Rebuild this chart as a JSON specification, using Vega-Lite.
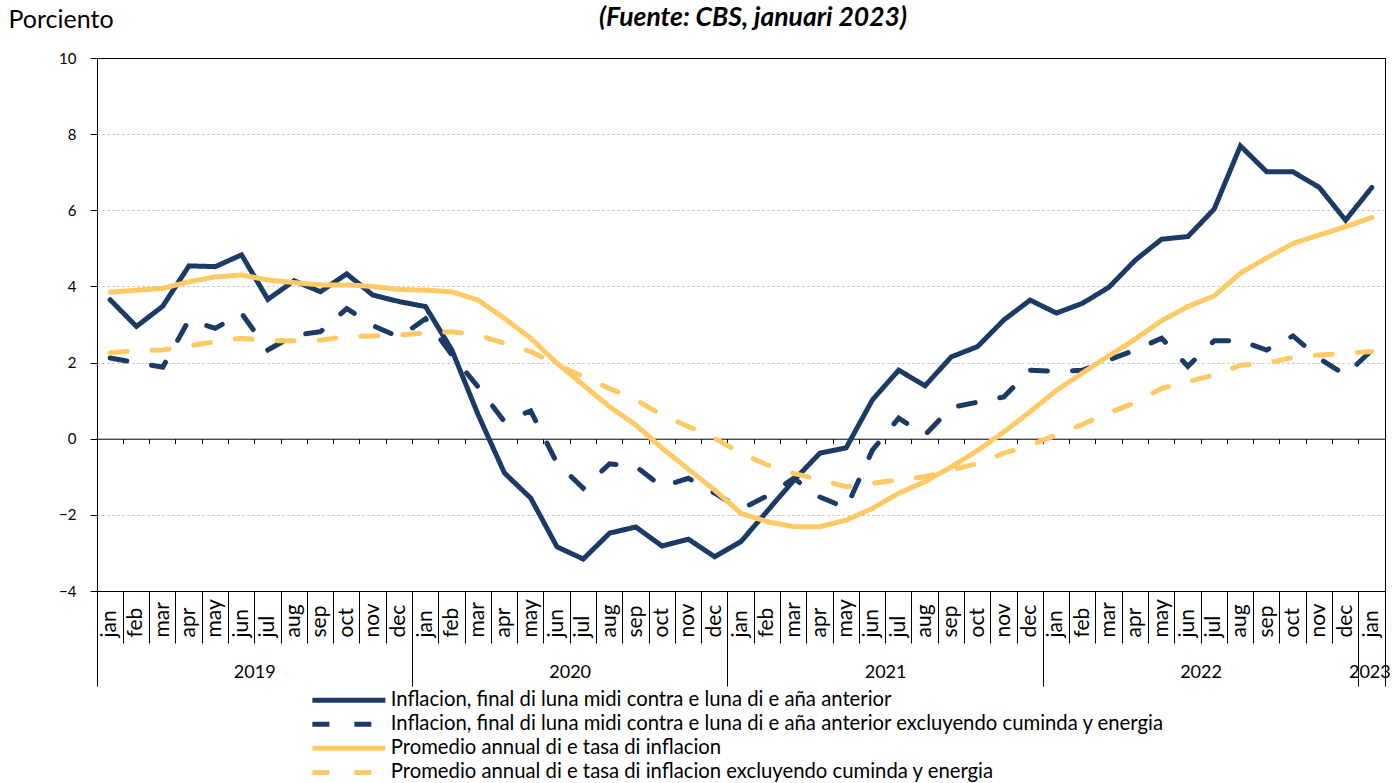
{
  "$schema": "https://vega.github.io/schema/vega-lite/v6.json",
  "width": 1288,
  "height": 533,
  "autosize": {"type": "none"},
  "padding": {"left": 97, "top": 58, "right": 15, "bottom": 192},
  "config": {"font": "Lato", "view": {"stroke": "black", "strokeWidth": 1}},
  "title": {"text": "(Fuente: CBS, januari 2023)", "fontSize": 26.5, "fontWeight": "bold", "fontStyle": "italic", "color": "black", "anchor": "middle", "frame": "group", "baseline": "alphabetic", "offset": 0, "dy": 45, "dx": 12},
  "data": {"values": [
{"month":"2019-01","serie":"Inflacion, final di luna midi contra e luna di e aña anterior","value":3.65},
{"month":"2019-02","serie":"Inflacion, final di luna midi contra e luna di e aña anterior","value":2.95},
{"month":"2019-03","serie":"Inflacion, final di luna midi contra e luna di e aña anterior","value":3.48},
{"month":"2019-04","serie":"Inflacion, final di luna midi contra e luna di e aña anterior","value":4.54},
{"month":"2019-05","serie":"Inflacion, final di luna midi contra e luna di e aña anterior","value":4.52},
{"month":"2019-06","serie":"Inflacion, final di luna midi contra e luna di e aña anterior","value":4.83},
{"month":"2019-07","serie":"Inflacion, final di luna midi contra e luna di e aña anterior","value":3.66},
{"month":"2019-08","serie":"Inflacion, final di luna midi contra e luna di e aña anterior","value":4.15},
{"month":"2019-09","serie":"Inflacion, final di luna midi contra e luna di e aña anterior","value":3.86},
{"month":"2019-10","serie":"Inflacion, final di luna midi contra e luna di e aña anterior","value":4.33},
{"month":"2019-11","serie":"Inflacion, final di luna midi contra e luna di e aña anterior","value":3.77},
{"month":"2019-12","serie":"Inflacion, final di luna midi contra e luna di e aña anterior","value":3.6},
{"month":"2020-01","serie":"Inflacion, final di luna midi contra e luna di e aña anterior","value":3.47},
{"month":"2020-02","serie":"Inflacion, final di luna midi contra e luna di e aña anterior","value":2.33},
{"month":"2020-03","serie":"Inflacion, final di luna midi contra e luna di e aña anterior","value":0.63},
{"month":"2020-04","serie":"Inflacion, final di luna midi contra e luna di e aña anterior","value":-0.9},
{"month":"2020-05","serie":"Inflacion, final di luna midi contra e luna di e aña anterior","value":-1.56},
{"month":"2020-06","serie":"Inflacion, final di luna midi contra e luna di e aña anterior","value":-2.84},
{"month":"2020-07","serie":"Inflacion, final di luna midi contra e luna di e aña anterior","value":-3.16},
{"month":"2020-08","serie":"Inflacion, final di luna midi contra e luna di e aña anterior","value":-2.48},
{"month":"2020-09","serie":"Inflacion, final di luna midi contra e luna di e aña anterior","value":-2.32},
{"month":"2020-10","serie":"Inflacion, final di luna midi contra e luna di e aña anterior","value":-2.82},
{"month":"2020-11","serie":"Inflacion, final di luna midi contra e luna di e aña anterior","value":-2.64},
{"month":"2020-12","serie":"Inflacion, final di luna midi contra e luna di e aña anterior","value":-3.1},
{"month":"2021-01","serie":"Inflacion, final di luna midi contra e luna di e aña anterior","value":-2.7},
{"month":"2021-02","serie":"Inflacion, final di luna midi contra e luna di e aña anterior","value":-1.9},
{"month":"2021-03","serie":"Inflacion, final di luna midi contra e luna di e aña anterior","value":-1.1},
{"month":"2021-04","serie":"Inflacion, final di luna midi contra e luna di e aña anterior","value":-0.38},
{"month":"2021-05","serie":"Inflacion, final di luna midi contra e luna di e aña anterior","value":-0.24},
{"month":"2021-06","serie":"Inflacion, final di luna midi contra e luna di e aña anterior","value":1.02},
{"month":"2021-07","serie":"Inflacion, final di luna midi contra e luna di e aña anterior","value":1.8},
{"month":"2021-08","serie":"Inflacion, final di luna midi contra e luna di e aña anterior","value":1.39},
{"month":"2021-09","serie":"Inflacion, final di luna midi contra e luna di e aña anterior","value":2.15},
{"month":"2021-10","serie":"Inflacion, final di luna midi contra e luna di e aña anterior","value":2.42},
{"month":"2021-11","serie":"Inflacion, final di luna midi contra e luna di e aña anterior","value":3.12},
{"month":"2021-12","serie":"Inflacion, final di luna midi contra e luna di e aña anterior","value":3.64},
{"month":"2022-01","serie":"Inflacion, final di luna midi contra e luna di e aña anterior","value":3.3},
{"month":"2022-02","serie":"Inflacion, final di luna midi contra e luna di e aña anterior","value":3.56},
{"month":"2022-03","serie":"Inflacion, final di luna midi contra e luna di e aña anterior","value":3.98},
{"month":"2022-04","serie":"Inflacion, final di luna midi contra e luna di e aña anterior","value":4.69},
{"month":"2022-05","serie":"Inflacion, final di luna midi contra e luna di e aña anterior","value":5.24},
{"month":"2022-06","serie":"Inflacion, final di luna midi contra e luna di e aña anterior","value":5.31},
{"month":"2022-07","serie":"Inflacion, final di luna midi contra e luna di e aña anterior","value":6.03},
{"month":"2022-08","serie":"Inflacion, final di luna midi contra e luna di e aña anterior","value":7.69},
{"month":"2022-09","serie":"Inflacion, final di luna midi contra e luna di e aña anterior","value":7.01},
{"month":"2022-10","serie":"Inflacion, final di luna midi contra e luna di e aña anterior","value":7.01},
{"month":"2022-11","serie":"Inflacion, final di luna midi contra e luna di e aña anterior","value":6.6},
{"month":"2022-12","serie":"Inflacion, final di luna midi contra e luna di e aña anterior","value":5.74},
{"month":"2023-01","serie":"Inflacion, final di luna midi contra e luna di e aña anterior","value":6.6},
{"month":"2019-01","serie":"Inflacion, final di luna midi contra e luna di e aña anterior excluyendo cuminda y energia","value":2.12},
{"month":"2019-02","serie":"Inflacion, final di luna midi contra e luna di e aña anterior excluyendo cuminda y energia","value":2.0},
{"month":"2019-03","serie":"Inflacion, final di luna midi contra e luna di e aña anterior excluyendo cuminda y energia","value":1.88},
{"month":"2019-04","serie":"Inflacion, final di luna midi contra e luna di e aña anterior excluyendo cuminda y energia","value":3.12},
{"month":"2019-05","serie":"Inflacion, final di luna midi contra e luna di e aña anterior excluyendo cuminda y energia","value":2.9},
{"month":"2019-06","serie":"Inflacion, final di luna midi contra e luna di e aña anterior excluyendo cuminda y energia","value":3.29},
{"month":"2019-07","serie":"Inflacion, final di luna midi contra e luna di e aña anterior excluyendo cuminda y energia","value":2.33},
{"month":"2019-08","serie":"Inflacion, final di luna midi contra e luna di e aña anterior excluyendo cuminda y energia","value":2.72},
{"month":"2019-09","serie":"Inflacion, final di luna midi contra e luna di e aña anterior excluyendo cuminda y energia","value":2.81},
{"month":"2019-10","serie":"Inflacion, final di luna midi contra e luna di e aña anterior excluyendo cuminda y energia","value":3.42},
{"month":"2019-11","serie":"Inflacion, final di luna midi contra e luna di e aña anterior excluyendo cuminda y energia","value":2.97},
{"month":"2019-12","serie":"Inflacion, final di luna midi contra e luna di e aña anterior excluyendo cuminda y energia","value":2.67},
{"month":"2020-01","serie":"Inflacion, final di luna midi contra e luna di e aña anterior excluyendo cuminda y energia","value":3.15},
{"month":"2020-02","serie":"Inflacion, final di luna midi contra e luna di e aña anterior excluyendo cuminda y energia","value":2.2},
{"month":"2020-03","serie":"Inflacion, final di luna midi contra e luna di e aña anterior excluyendo cuminda y energia","value":1.36},
{"month":"2020-04","serie":"Inflacion, final di luna midi contra e luna di e aña anterior excluyendo cuminda y energia","value":0.45},
{"month":"2020-05","serie":"Inflacion, final di luna midi contra e luna di e aña anterior excluyendo cuminda y energia","value":0.73},
{"month":"2020-06","serie":"Inflacion, final di luna midi contra e luna di e aña anterior excluyendo cuminda y energia","value":-0.64},
{"month":"2020-07","serie":"Inflacion, final di luna midi contra e luna di e aña anterior excluyendo cuminda y energia","value":-1.3},
{"month":"2020-08","serie":"Inflacion, final di luna midi contra e luna di e aña anterior excluyendo cuminda y energia","value":-0.66},
{"month":"2020-09","serie":"Inflacion, final di luna midi contra e luna di e aña anterior excluyendo cuminda y energia","value":-0.73},
{"month":"2020-10","serie":"Inflacion, final di luna midi contra e luna di e aña anterior excluyendo cuminda y energia","value":-1.26},
{"month":"2020-11","serie":"Inflacion, final di luna midi contra e luna di e aña anterior excluyendo cuminda y energia","value":-1.04},
{"month":"2020-12","serie":"Inflacion, final di luna midi contra e luna di e aña anterior excluyendo cuminda y energia","value":-1.43},
{"month":"2021-01","serie":"Inflacion, final di luna midi contra e luna di e aña anterior excluyendo cuminda y energia","value":-1.85},
{"month":"2021-02","serie":"Inflacion, final di luna midi contra e luna di e aña anterior excluyendo cuminda y energia","value":-1.5},
{"month":"2021-03","serie":"Inflacion, final di luna midi contra e luna di e aña anterior excluyendo cuminda y energia","value":-1.04},
{"month":"2021-04","serie":"Inflacion, final di luna midi contra e luna di e aña anterior excluyendo cuminda y energia","value":-1.53},
{"month":"2021-05","serie":"Inflacion, final di luna midi contra e luna di e aña anterior excluyendo cuminda y energia","value":-1.82},
{"month":"2021-06","serie":"Inflacion, final di luna midi contra e luna di e aña anterior excluyendo cuminda y energia","value":-0.3},
{"month":"2021-07","serie":"Inflacion, final di luna midi contra e luna di e aña anterior excluyendo cuminda y energia","value":0.54},
{"month":"2021-08","serie":"Inflacion, final di luna midi contra e luna di e aña anterior excluyendo cuminda y energia","value":0.1},
{"month":"2021-09","serie":"Inflacion, final di luna midi contra e luna di e aña anterior excluyendo cuminda y energia","value":0.82},
{"month":"2021-10","serie":"Inflacion, final di luna midi contra e luna di e aña anterior excluyendo cuminda y energia","value":0.96},
{"month":"2021-11","serie":"Inflacion, final di luna midi contra e luna di e aña anterior excluyendo cuminda y energia","value":1.1},
{"month":"2021-12","serie":"Inflacion, final di luna midi contra e luna di e aña anterior excluyendo cuminda y energia","value":1.8},
{"month":"2022-01","serie":"Inflacion, final di luna midi contra e luna di e aña anterior excluyendo cuminda y energia","value":1.77},
{"month":"2022-02","serie":"Inflacion, final di luna midi contra e luna di e aña anterior excluyendo cuminda y energia","value":1.8},
{"month":"2022-03","serie":"Inflacion, final di luna midi contra e luna di e aña anterior excluyendo cuminda y energia","value":2.07},
{"month":"2022-04","serie":"Inflacion, final di luna midi contra e luna di e aña anterior excluyendo cuminda y energia","value":2.33},
{"month":"2022-05","serie":"Inflacion, final di luna midi contra e luna di e aña anterior excluyendo cuminda y energia","value":2.64},
{"month":"2022-06","serie":"Inflacion, final di luna midi contra e luna di e aña anterior excluyendo cuminda y energia","value":1.9},
{"month":"2022-07","serie":"Inflacion, final di luna midi contra e luna di e aña anterior excluyendo cuminda y energia","value":2.57},
{"month":"2022-08","serie":"Inflacion, final di luna midi contra e luna di e aña anterior excluyendo cuminda y energia","value":2.57},
{"month":"2022-09","serie":"Inflacion, final di luna midi contra e luna di e aña anterior excluyendo cuminda y energia","value":2.33},
{"month":"2022-10","serie":"Inflacion, final di luna midi contra e luna di e aña anterior excluyendo cuminda y energia","value":2.7},
{"month":"2022-11","serie":"Inflacion, final di luna midi contra e luna di e aña anterior excluyendo cuminda y energia","value":2.11},
{"month":"2022-12","serie":"Inflacion, final di luna midi contra e luna di e aña anterior excluyendo cuminda y energia","value":1.67},
{"month":"2023-01","serie":"Inflacion, final di luna midi contra e luna di e aña anterior excluyendo cuminda y energia","value":2.33},
{"month":"2019-01","serie":"Promedio annual di e tasa di inflacion","value":3.85},
{"month":"2019-02","serie":"Promedio annual di e tasa di inflacion","value":3.9},
{"month":"2019-03","serie":"Promedio annual di e tasa di inflacion","value":3.95},
{"month":"2019-04","serie":"Promedio annual di e tasa di inflacion","value":4.12},
{"month":"2019-05","serie":"Promedio annual di e tasa di inflacion","value":4.25},
{"month":"2019-06","serie":"Promedio annual di e tasa di inflacion","value":4.3},
{"month":"2019-07","serie":"Promedio annual di e tasa di inflacion","value":4.17},
{"month":"2019-08","serie":"Promedio annual di e tasa di inflacion","value":4.1},
{"month":"2019-09","serie":"Promedio annual di e tasa di inflacion","value":4.04},
{"month":"2019-10","serie":"Promedio annual di e tasa di inflacion","value":4.04},
{"month":"2019-11","serie":"Promedio annual di e tasa di inflacion","value":4.0},
{"month":"2019-12","serie":"Promedio annual di e tasa di inflacion","value":3.92},
{"month":"2020-01","serie":"Promedio annual di e tasa di inflacion","value":3.9},
{"month":"2020-02","serie":"Promedio annual di e tasa di inflacion","value":3.86},
{"month":"2020-03","serie":"Promedio annual di e tasa di inflacion","value":3.64},
{"month":"2020-04","serie":"Promedio annual di e tasa di inflacion","value":3.16},
{"month":"2020-05","serie":"Promedio annual di e tasa di inflacion","value":2.64},
{"month":"2020-06","serie":"Promedio annual di e tasa di inflacion","value":1.98},
{"month":"2020-07","serie":"Promedio annual di e tasa di inflacion","value":1.41},
{"month":"2020-08","serie":"Promedio annual di e tasa di inflacion","value":0.84},
{"month":"2020-09","serie":"Promedio annual di e tasa di inflacion","value":0.36},
{"month":"2020-10","serie":"Promedio annual di e tasa di inflacion","value":-0.25},
{"month":"2020-11","serie":"Promedio annual di e tasa di inflacion","value":-0.8},
{"month":"2020-12","serie":"Promedio annual di e tasa di inflacion","value":-1.35},
{"month":"2021-01","serie":"Promedio annual di e tasa di inflacion","value":-1.96},
{"month":"2021-02","serie":"Promedio annual di e tasa di inflacion","value":-2.18},
{"month":"2021-03","serie":"Promedio annual di e tasa di inflacion","value":-2.31},
{"month":"2021-04","serie":"Promedio annual di e tasa di inflacion","value":-2.31},
{"month":"2021-05","serie":"Promedio annual di e tasa di inflacion","value":-2.14},
{"month":"2021-06","serie":"Promedio annual di e tasa di inflacion","value":-1.83},
{"month":"2021-07","serie":"Promedio annual di e tasa di inflacion","value":-1.43},
{"month":"2021-08","serie":"Promedio annual di e tasa di inflacion","value":-1.13},
{"month":"2021-09","serie":"Promedio annual di e tasa di inflacion","value":-0.74},
{"month":"2021-10","serie":"Promedio annual di e tasa di inflacion","value":-0.31},
{"month":"2021-11","serie":"Promedio annual di e tasa di inflacion","value":0.18},
{"month":"2021-12","serie":"Promedio annual di e tasa di inflacion","value":0.71},
{"month":"2022-01","serie":"Promedio annual di e tasa di inflacion","value":1.27},
{"month":"2022-02","serie":"Promedio annual di e tasa di inflacion","value":1.73},
{"month":"2022-03","serie":"Promedio annual di e tasa di inflacion","value":2.18},
{"month":"2022-04","serie":"Promedio annual di e tasa di inflacion","value":2.62},
{"month":"2022-05","serie":"Promedio annual di e tasa di inflacion","value":3.1},
{"month":"2022-06","serie":"Promedio annual di e tasa di inflacion","value":3.47},
{"month":"2022-07","serie":"Promedio annual di e tasa di inflacion","value":3.75},
{"month":"2022-08","serie":"Promedio annual di e tasa di inflacion","value":4.35},
{"month":"2022-09","serie":"Promedio annual di e tasa di inflacion","value":4.75},
{"month":"2022-10","serie":"Promedio annual di e tasa di inflacion","value":5.13},
{"month":"2022-11","serie":"Promedio annual di e tasa di inflacion","value":5.35},
{"month":"2022-12","serie":"Promedio annual di e tasa di inflacion","value":5.57},
{"month":"2023-01","serie":"Promedio annual di e tasa di inflacion","value":5.81},
{"month":"2019-01","serie":"Promedio annual di e tasa di inflacion excluyendo cuminda y energia","value":2.26},
{"month":"2019-02","serie":"Promedio annual di e tasa di inflacion excluyendo cuminda y energia","value":2.31},
{"month":"2019-03","serie":"Promedio annual di e tasa di inflacion excluyendo cuminda y energia","value":2.33},
{"month":"2019-04","serie":"Promedio annual di e tasa di inflacion excluyendo cuminda y energia","value":2.44},
{"month":"2019-05","serie":"Promedio annual di e tasa di inflacion excluyendo cuminda y energia","value":2.55},
{"month":"2019-06","serie":"Promedio annual di e tasa di inflacion excluyendo cuminda y energia","value":2.64},
{"month":"2019-07","serie":"Promedio annual di e tasa di inflacion excluyendo cuminda y energia","value":2.57},
{"month":"2019-08","serie":"Promedio annual di e tasa di inflacion excluyendo cuminda y energia","value":2.57},
{"month":"2019-09","serie":"Promedio annual di e tasa di inflacion excluyendo cuminda y energia","value":2.59},
{"month":"2019-10","serie":"Promedio annual di e tasa di inflacion excluyendo cuminda y energia","value":2.68},
{"month":"2019-11","serie":"Promedio annual di e tasa di inflacion excluyendo cuminda y energia","value":2.7},
{"month":"2019-12","serie":"Promedio annual di e tasa di inflacion excluyendo cuminda y energia","value":2.72},
{"month":"2020-01","serie":"Promedio annual di e tasa di inflacion excluyendo cuminda y energia","value":2.78},
{"month":"2020-02","serie":"Promedio annual di e tasa di inflacion excluyendo cuminda y energia","value":2.81},
{"month":"2020-03","serie":"Promedio annual di e tasa di inflacion excluyendo cuminda y energia","value":2.72},
{"month":"2020-04","serie":"Promedio annual di e tasa di inflacion excluyendo cuminda y energia","value":2.51},
{"month":"2020-05","serie":"Promedio annual di e tasa di inflacion excluyendo cuminda y energia","value":2.29},
{"month":"2020-06","serie":"Promedio annual di e tasa di inflacion excluyendo cuminda y energia","value":1.94},
{"month":"2020-07","serie":"Promedio annual di e tasa di inflacion excluyendo cuminda y energia","value":1.63},
{"month":"2020-08","serie":"Promedio annual di e tasa di inflacion excluyendo cuminda y energia","value":1.32},
{"month":"2020-09","serie":"Promedio annual di e tasa di inflacion excluyendo cuminda y energia","value":1.02},
{"month":"2020-10","serie":"Promedio annual di e tasa di inflacion excluyendo cuminda y energia","value":0.62},
{"month":"2020-11","serie":"Promedio annual di e tasa di inflacion excluyendo cuminda y energia","value":0.32},
{"month":"2020-12","serie":"Promedio annual di e tasa di inflacion excluyendo cuminda y energia","value":0.01},
{"month":"2021-01","serie":"Promedio annual di e tasa di inflacion excluyendo cuminda y energia","value":-0.38},
{"month":"2021-02","serie":"Promedio annual di e tasa di inflacion excluyendo cuminda y energia","value":-0.69},
{"month":"2021-03","serie":"Promedio annual di e tasa di inflacion excluyendo cuminda y energia","value":-0.91},
{"month":"2021-04","serie":"Promedio annual di e tasa di inflacion excluyendo cuminda y energia","value":-1.08},
{"month":"2021-05","serie":"Promedio annual di e tasa di inflacion excluyendo cuminda y energia","value":-1.26},
{"month":"2021-06","serie":"Promedio annual di e tasa di inflacion excluyendo cuminda y energia","value":-1.17},
{"month":"2021-07","serie":"Promedio annual di e tasa di inflacion excluyendo cuminda y energia","value":-1.08},
{"month":"2021-08","serie":"Promedio annual di e tasa di inflacion excluyendo cuminda y energia","value":-1.0},
{"month":"2021-09","serie":"Promedio annual di e tasa di inflacion excluyendo cuminda y energia","value":-0.82},
{"month":"2021-10","serie":"Promedio annual di e tasa di inflacion excluyendo cuminda y energia","value":-0.65},
{"month":"2021-11","serie":"Promedio annual di e tasa di inflacion excluyendo cuminda y energia","value":-0.38},
{"month":"2021-12","serie":"Promedio annual di e tasa di inflacion excluyendo cuminda y energia","value":-0.17},
{"month":"2022-01","serie":"Promedio annual di e tasa di inflacion excluyendo cuminda y energia","value":0.1},
{"month":"2022-02","serie":"Promedio annual di e tasa di inflacion excluyendo cuminda y energia","value":0.38},
{"month":"2022-03","serie":"Promedio annual di e tasa di inflacion excluyendo cuminda y energia","value":0.68},
{"month":"2022-04","serie":"Promedio annual di e tasa di inflacion excluyendo cuminda y energia","value":0.95},
{"month":"2022-05","serie":"Promedio annual di e tasa di inflacion excluyendo cuminda y energia","value":1.32},
{"month":"2022-06","serie":"Promedio annual di e tasa di inflacion excluyendo cuminda y energia","value":1.5},
{"month":"2022-07","serie":"Promedio annual di e tasa di inflacion excluyendo cuminda y energia","value":1.67},
{"month":"2022-08","serie":"Promedio annual di e tasa di inflacion excluyendo cuminda y energia","value":1.93},
{"month":"2022-09","serie":"Promedio annual di e tasa di inflacion excluyendo cuminda y energia","value":1.98},
{"month":"2022-10","serie":"Promedio annual di e tasa di inflacion excluyendo cuminda y energia","value":2.14},
{"month":"2022-11","serie":"Promedio annual di e tasa di inflacion excluyendo cuminda y energia","value":2.2},
{"month":"2022-12","serie":"Promedio annual di e tasa di inflacion excluyendo cuminda y energia","value":2.24},
{"month":"2023-01","serie":"Promedio annual di e tasa di inflacion excluyendo cuminda y energia","value":2.29}
  ]},
  "resolve": {"axis": {"x": "independent", "y": "independent"}},
  "layer": [
    {
      "mark": {"type": "line", "strokeWidth": 5, "strokeCap": "round"},
      "encoding": {
        "x": {"field": "month", "type": "ordinal", "scale": {"type": "band", "paddingInner": 0, "paddingOuter": 0},
          "axis": {"orient": "bottom", "title": null, "labels": false, "domain": false, "grid": false, "bandPosition": 0, "tickColor": "black", "tickWidth": 1,
            "tickSize": {"condition": {"test": "slice(datum.value, 5, 7) == '01'", "value": 95}, "value": 52}}},
        "y": {"field": "value", "type": "quantitative", "scale": {"domain": [-4, 10], "nice": false, "zero": false},
          "axis": {"orient": "left", "values": [-4, -2, 0, 2, 4, 6, 8, 10], "title": "Porciento", "titleAngle": 0, "titleAlign": "left", "titleBaseline": "alphabetic", "titleX": -89, "titleY": -31, "titleFontSize": 25, "titleFontWeight": "normal", "titleColor": "black",
            "domainColor": "black", "tickColor": "black", "tickSize": 7, "labelPadding": 14, "labelFontSize": 15, "labelColor": "black",
            "grid": true, "gridDash": [2, 3], "gridWidth": 1,
            "gridColor": {"condition": {"test": "datum.value == 0 || datum.value == 10 || datum.value == -4", "value": "transparent"}, "value": "#B8B8B8"}}},
        "color": {"field": "serie", "type": "nominal",
          "scale": {"domain": ["Inflacion, final di luna midi contra e luna di e aña anterior", "Inflacion, final di luna midi contra e luna di e aña anterior excluyendo cuminda y energia", "Promedio annual di e tasa di inflacion", "Promedio annual di e tasa di inflacion excluyendo cuminda y energia"],
            "range": ["#1B3A65", "#1B3A65", "#FFCA66", "#FFCA66"]},
          "legend": {"orient": "none", "legendX": 241.7, "legendY": 632, "direction": "vertical", "title": null, "symbolType": "M-5,0L5,0", "symbolSize": 213, "symbolStrokeWidth": 5, "labelFontSize": 20.3, "labelColor": "black", "labelOffset": 31.7, "labelLimit": 0, "padding": 0, "rowPadding": 3.1}},
        "strokeDash": {"field": "serie", "type": "nominal",
          "scale": {"domain": ["Inflacion, final di luna midi contra e luna di e aña anterior", "Inflacion, final di luna midi contra e luna di e aña anterior excluyendo cuminda y energia", "Promedio annual di e tasa di inflacion", "Promedio annual di e tasa di inflacion excluyendo cuminda y energia"],
            "range": [[1, 0], [17, 25], [1, 0], [17, 25]]}}
      }
    },
    {
      "mark": {"type": "point", "opacity": 0},
      "encoding": {
        "x": {"field": "month", "type": "ordinal", "scale": {"type": "band", "paddingInner": 0, "paddingOuter": 0},
          "axis": {"orient": "bottom", "title": null, "ticks": false, "domain": false, "grid": false, "labelAngle": 270, "labelAlign": "left", "labelBaseline": "middle", "labelPadding": 46, "labelFontSize": 21, "labelColor": "black", "labelOverlap": false,
            "labelExpr": "['jan','feb','mar','apr','may','jun','jul','aug','sep','oct','nov','dec'][toNumber(slice(datum.value, 5, 7)) - 1]"}}
      }
    },
    {
      "mark": {"type": "point", "opacity": 0},
      "encoding": {
        "x": {"field": "month", "type": "ordinal", "scale": {"type": "band", "paddingInner": 0, "paddingOuter": 0},
          "axis": {"orient": "bottom", "title": null, "ticks": false, "domain": false, "grid": false, "values": ["2019-06", "2020-06", "2021-06", "2022-06", "2023-01"],
            "labelAngle": 0, "labelPadding": 72, "labelFontSize": 18, "labelColor": "black", "labelOverlap": false,
            "labelExpr": "slice(datum.value, 0, 4)",
            "labelOffset": {"condition": {"test": "datum.value == '2023-01'", "value": -2}, "value": 13.15}}}
      }
    },
    {
      "mark": {"type": "point", "opacity": 0},
      "encoding": {
        "x": {"field": "month", "type": "ordinal", "scale": {"type": "band", "paddingInner": 0, "paddingOuter": 0},
          "axis": {"orient": "bottom", "title": null, "labels": false, "domain": false, "grid": false, "bandPosition": 1, "values": ["2023-01"], "tickSize": 95, "tickColor": "black", "tickWidth": 1}}
      }
    },
    {
      "mark": {"type": "point", "opacity": 0},
      "encoding": {
        "x": {"field": "month", "type": "ordinal", "scale": {"type": "band", "paddingInner": 0, "paddingOuter": 0},
          "axis": {"orient": "bottom", "title": null, "labels": false, "domain": true, "domainColor": "black", "domainWidth": 1, "grid": false, "bandPosition": 0, "tickSize": 5, "tickColor": "black", "tickWidth": 1, "offset": -152.29}}
      }
    }
  ]
}
